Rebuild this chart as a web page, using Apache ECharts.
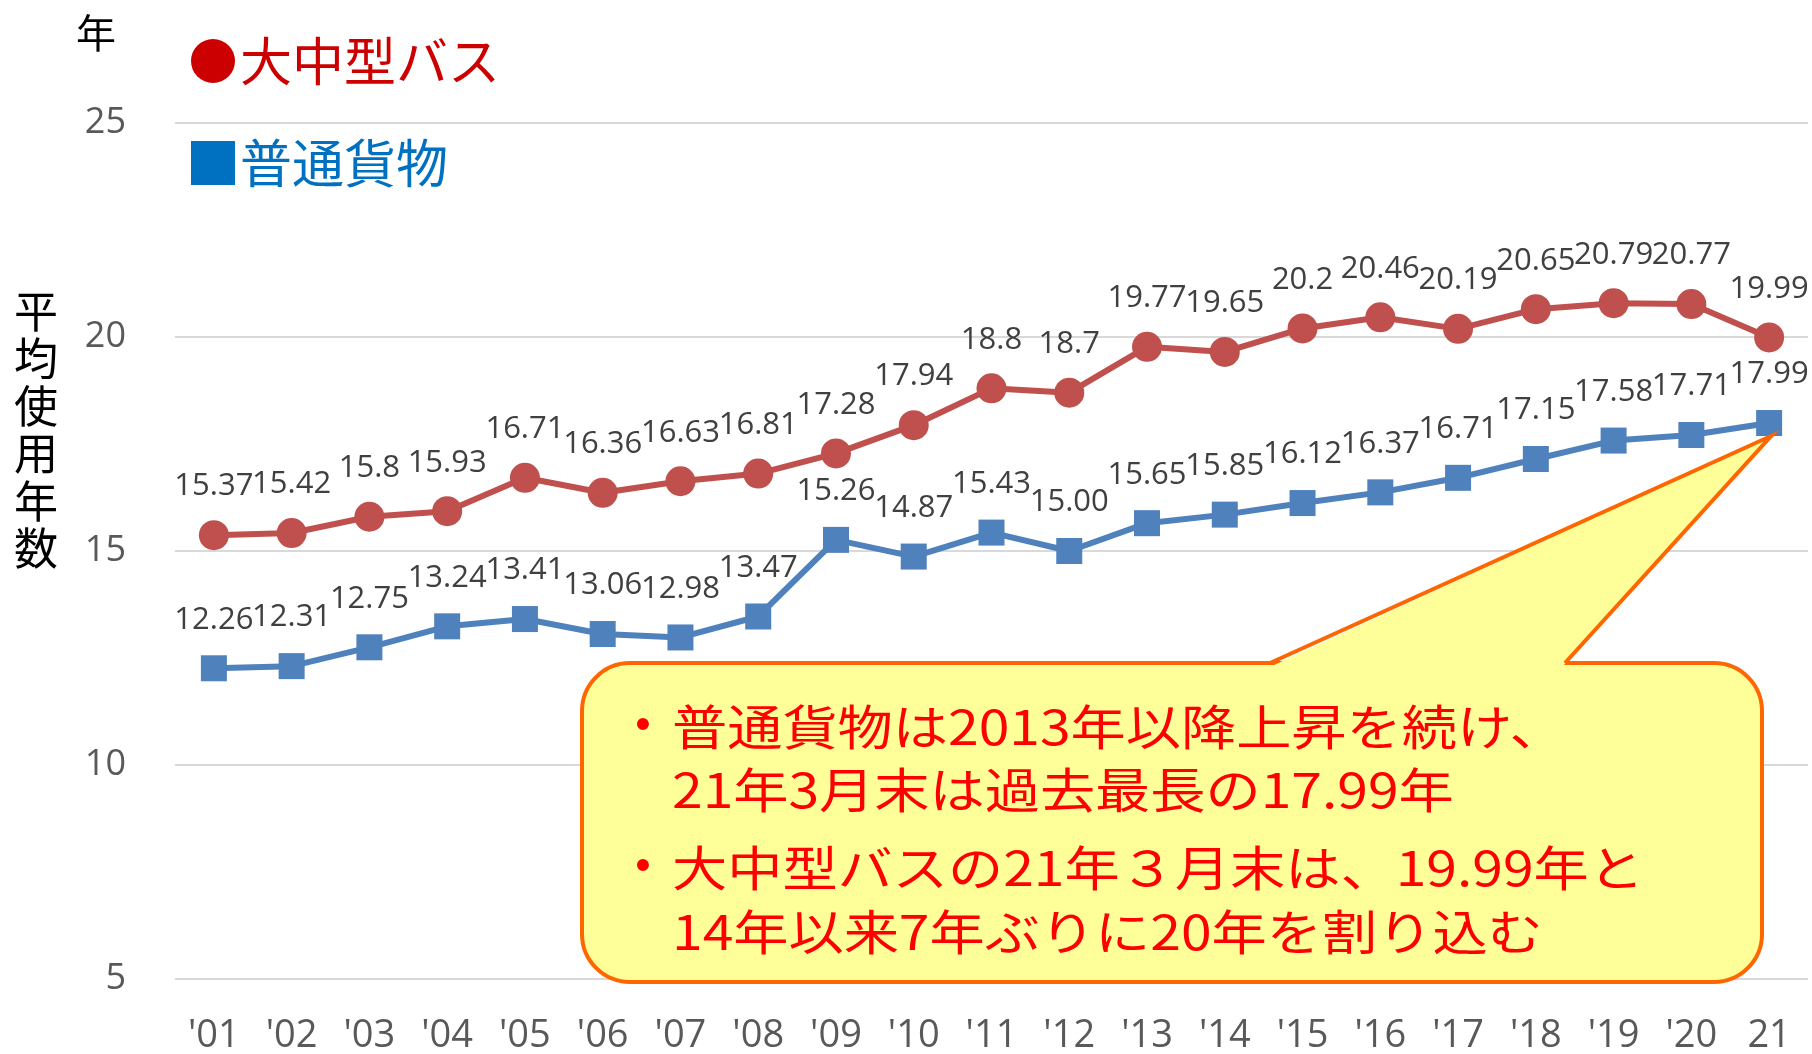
<!DOCTYPE html>
<html lang="ja">
<head>
  <meta charset="UTF-8">
  <title>平均使用年数</title>
  <style>
    html, body { margin: 0; padding: 0; background: #fff; }
    #chart { width: 1812px; height: 1054px; }
  </style>
</head>
<body>
  <script src="https://cdn.jsdelivr.net/npm/echarts@6/dist/echarts.min.js"></script>
  <div id="chart"></div>
  <script>
    // data
    const years = ["'01", "'02", "'03", "'04", "'05", "'06", "'07", "'08", "'09", "'10",
                   "'11", "'12", "'13", "'14", "'15", "'16", "'17", "'18", "'19", "'20", "21"]
    const busAges = [15.37, 15.42, 15.8, 15.93, 16.71, 16.36, 16.63, 16.81, 17.28, 17.94,
                     18.8, 18.7, 19.77, 19.65, 20.2, 20.46, 20.19, 20.65, 20.79, 20.77, 19.99]
    const truckAges = [12.26, 12.31, 12.75, 13.24, 13.41, 13.06, 12.98, 13.47, 15.26, 14.87,
                       15.43, 15.00, 15.65, 15.85, 16.12, 16.37, 16.71, 17.15, 17.58, 17.71, 17.99]
    const yTicks = [5, 10, 15, 20, 25]
    const noteTruck = ['普通貨物は2013年以降上昇を続け、', '21年3月末は過去最長の17.99年']
    const noteBus = ['大中型バスの21年３月末は、19.99年と', '14年以来7年ぶりに20年を割り込む']

    const LATIN = "'Open Sans', 'Noto Sans CJK JP', sans-serif"
    const CJK = "'Noto Sans CJK JP', sans-serif"

    let chart = echarts.init(document.getElementById('chart'), null, { renderer: 'canvas' })

    let option = {
      animation: false,
      backgroundColor: '#ffffff',
      textStyle: { fontFamily: LATIN },
      grid: { left: 175, right: 4, top: 123, bottom: 75, containLabel: false, outerBoundsMode: 'none' },
      legend: {
        orient: 'vertical',
        left: 186,
        top: 30,
        itemWidth: 44,
        itemHeight: 44,
        itemGap: 50,
        selectedMode: false,
        textStyle: { fontSize: 52, fontFamily: CJK },
        data: [
          { name: '大中型バス', icon: 'circle', itemStyle: { color: '#CC0000' }, textStyle: { color: '#CC0000' } },
          { name: '普通貨物', icon: 'rect', itemStyle: { color: '#0070C0' }, textStyle: { color: '#0070C0' } }
        ]
      },
      xAxis: {
        type: 'category',
        data: years,
        boundaryGap: true,
        axisLine: { show: false },
        axisTick: { show: false },
        axisLabel: { color: '#595959', fontSize: 38, margin: 38, interval: 0 }
      },
      yAxis: {
        type: 'value',
        min: yTicks[0],
        max: yTicks[yTicks.length - 1],
        interval: 5,
        axisLine: { show: false },
        axisTick: { show: false },
        axisLabel: { color: '#595959', fontSize: 36, margin: 49 },
        splitLine: { lineStyle: { color: '#D9D9D9', width: 2 } }
      },
      series: [
        {
          name: '大中型バス',
          type: 'line',
          data: busAges,
          symbol: 'circle',
          symbolSize: 30,
          lineStyle: { color: '#C0504D', width: 6 },
          itemStyle: { color: '#C0504D' },
          label: {
            show: true, position: 'top', distance: 18,
            color: '#404040', fontSize: 31,
            formatter: p => String(p.value)
          }
        },
        {
          name: '普通貨物',
          type: 'line',
          data: truckAges,
          symbol: 'rect',
          symbolSize: 26,
          lineStyle: { color: '#4F81BD', width: 6 },
          itemStyle: { color: '#4F81BD' },
          label: {
            show: true, position: 'top', distance: 20,
            color: '#404040', fontSize: 31,
            formatter: p => p.value.toFixed(2)
          }
        }
      ]
    }
    chart.setOption(option)

    // callout pointing at the last truck point
    const last = truckAges.length - 1
    const tip = chart.convertToPixel({ seriesIndex: 1 }, [last, truckAges[last]])
    const tx = tip[0] + 2, ty = tip[1] + 13
    const L = 582, T = 663, R = 1762, B = 982, n1 = 1270, n2 = 1565

    function noteText(text, x, y) {
      return {
        type: 'text', x: x, y: y, scaleX: 1.15, z: 103,
        style: { text: text, x: 0, y: 0, font: '48px ' + CJK, fill: '#FF0000', textVerticalAlign: 'middle' }
      }
    }
    function bullet(y) {
      return {
        type: 'text', x: 643, y: y, z: 103,
        style: { text: '•', font: "44px 'Liberation Sans', sans-serif", fill: '#FF0000', textAlign: 'center', textVerticalAlign: 'middle' }
      }
    }

    chart.setOption({
      graphic: [
        {
          type: 'text', x: 96, y: 33,
          style: { text: '年', font: '40px ' + CJK, fill: '#000000', textAlign: 'center', textVerticalAlign: 'middle' }
        },
        {
          type: 'text', x: 36, y: 430,
          style: {
            text: '平\n均\n使\n用\n年\n数', font: '44px ' + CJK, lineHeight: 47.5,
            fill: '#000000', textAlign: 'center', textVerticalAlign: 'middle'
          }
        },
        {
          type: 'rect', z: 100,
          shape: { x: L, y: T, width: R - L, height: B - T, r: 48 },
          style: { fill: '#FFFF99', stroke: '#FF6600', lineWidth: 4 }
        },
        {
          type: 'polygon', z: 101,
          shape: { points: [[n1 + 2, T + 3], [tx, ty], [n2 - 2, T + 3]] },
          style: { fill: '#FFFF99' }
        },
        {
          type: 'polyline', z: 102,
          shape: { points: [[n1, T], [tx, ty], [n2, T]] },
          style: { fill: null, stroke: '#FF6600', lineWidth: 4, lineJoin: 'miter' }
        },
        bullet(727),
        noteText(noteTruck[0], 672, 727),
        noteText(noteTruck[1], 672, 790),
        bullet(868),
        noteText(noteBus[0], 672, 868),
        noteText(noteBus[1], 672, 932)
      ]
    })
  </script>
</body>
</html>
